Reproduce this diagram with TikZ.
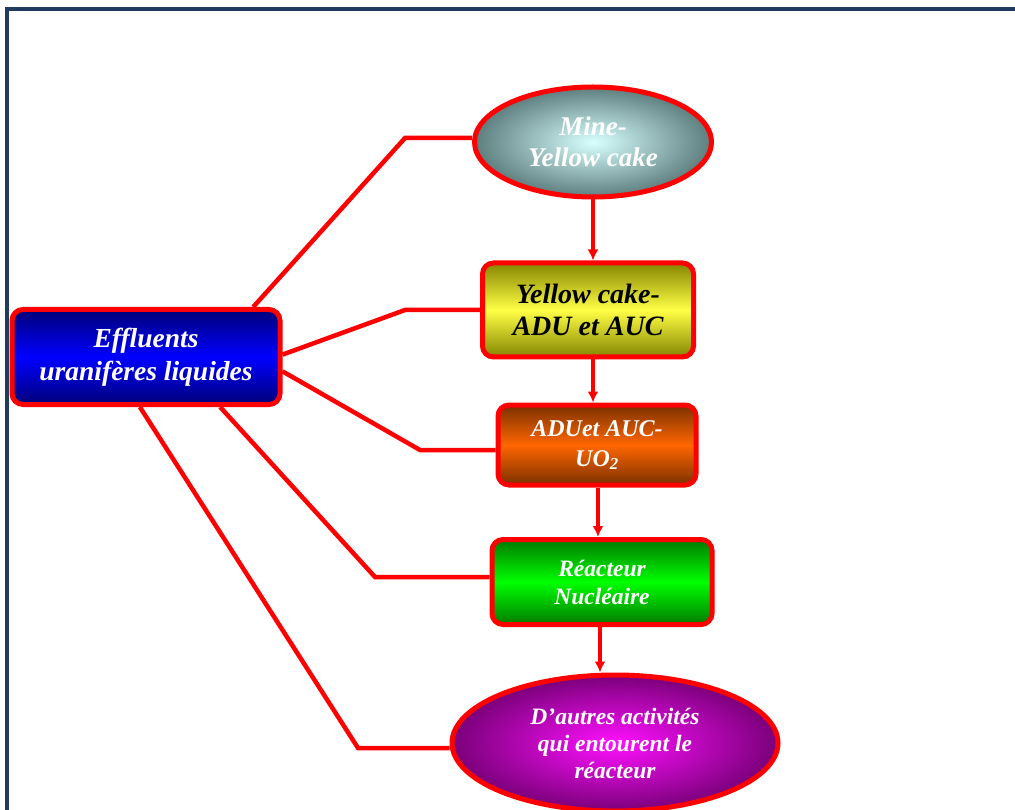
\documentclass[tikz,border=0pt]{standalone}
\usepackage{fontspec}
\setmainfont{Liberation Serif}
\usetikzlibrary{shapes.geometric,arrows.meta}

\definecolor{cadrebleu}{HTML}{1F3B60}
\definecolor{gristeal}{HTML}{5E7E7E}
\definecolor{cyanclair}{HTML}{D8FFFF}
\definecolor{olive}{HTML}{858500}
\definecolor{jaune}{HTML}{FFFF45}
\definecolor{brun}{HTML}{7A3000}
\definecolor{orange}{HTML}{FF6600}
\definecolor{vertfonce}{HTML}{007A00}
\definecolor{vertvif}{HTML}{00FF00}
\definecolor{violet}{HTML}{7A007A}
\definecolor{magenta}{HTML}{FF10FF}
\definecolor{marine}{HTML}{000078}
\definecolor{bleuvif}{HTML}{0000FF}

\tikzset{
  x=1pt, y=-1pt,
  >={Latex[length=11pt,width=11pt]},
  etape/.style={rectangle, rounded corners=11pt, draw=red, line width=5pt,
    inner sep=0pt, align=center, font=\bfseries\itshape},
  bulle/.style={ellipse, draw=red, line width=5pt, inner sep=0pt,
    align=center, font=\bfseries\itshape},
  lien/.style={draw=red, line width=4.5pt},
  cadre/.style={draw=cadrebleu, line width=4.5pt},
}

\begin{document}
\begin{tikzpicture}
  \useasboundingbox (0,0) rectangle (1015,810);
  \draw[cadre] (7,812) -- (7,9) -- (1017,9);

  % les etapes
  \node (mine) [bulle, minimum width=237pt, minimum height=110pt,
    inner color=cyanclair, outer color=gristeal, text=white,
    font=\bfseries\itshape\fontsize{27}{31}\selectfont] at (593,142) {Mine-\\Yellow cake};
  \node (yc) [etape, minimum width=211pt, minimum height=94pt,
    top color=olive, bottom color=olive, middle color=jaune,
    font=\bfseries\itshape\fontsize{28}{32}\selectfont] at (588,310) {Yellow cake-\\ADU et AUC};
  \node (adu) [etape, minimum width=198pt, minimum height=80pt,
    top color=brun, bottom color=brun, middle color=orange, text=white,
    font=\bfseries\itshape\fontsize{24}{30}\selectfont] at (597,445) {ADUet AUC-\\UO\textsubscript{2}};
  \node (rea) [etape, minimum width=220pt, minimum height=85pt,
    top color=vertfonce, bottom color=vertfonce, middle color=vertvif, text=white,
    font=\bfseries\itshape\fontsize{23.5}{28}\selectfont] at (602,582) {Réacteur\\Nucléaire};
  \node (autres) [bulle, minimum width=326pt, minimum height=136pt,
    inner color=magenta, outer color=violet, text=white,
    font=\bfseries\itshape\fontsize{23.5}{27}\selectfont] at (615,743) {D’autres activités\\qui entourent le\\réacteur};
  \node (eff) [etape, minimum width=268pt, minimum height=95pt,
    top color=marine, bottom color=marine, middle color=bleuvif, text=white,
    font=\bfseries\itshape\fontsize{27.5}{33}\selectfont] at (146,357) {Effluents\\uranifères liquides};

  % coudes
  \coordinate (c1) at (405,138);
  \coordinate (c2) at (405,310);
  \coordinate (c3) at (420,450);
  \coordinate (c4) at (375,577);
  \coordinate (c5) at (358,748);

  % liens vers les effluents
  \draw[lien] (eff.25) -- (c1) -- (mine.west |- c1);
  \draw[lien] (eff.1) -- (c2) -- (yc.west |- c2);
  \draw[lien] (eff.-6) -- (c3) -- (adu.west |- c3);
  \draw[lien] (eff.-34) -- (c4) -- (rea.west |- c4);
  \draw[lien] (eff.-97) -- (c5) -- (autres.west |- c5);

  % filiere
  \draw[lien, ->] (mine.south) -- (mine.south |- yc.north);
  \draw[lien, ->] (yc.south -| 593,0) -- (593,0 |- adu.north);
  \draw[lien, ->] (adu.south -| 598,0) -- (598,0 |- rea.north);
  \draw[lien, ->] (rea.south -| 600,0) -- (600,0 |- autres.north);
\end{tikzpicture}
\end{document}
